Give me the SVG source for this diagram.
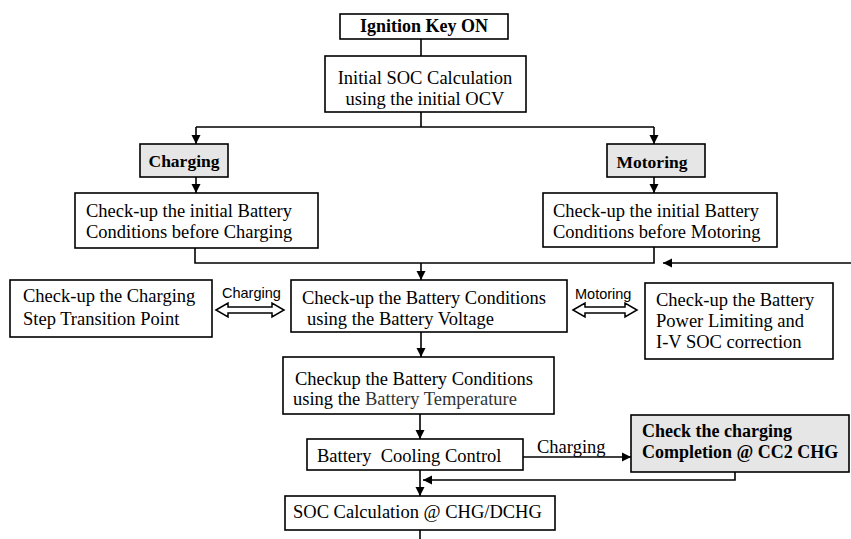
<svg xmlns="http://www.w3.org/2000/svg" width="851" height="539" viewBox="0 0 851 539">
<defs>
<marker id="ah" markerWidth="10" markerHeight="10" refX="9" refY="5" orient="auto" markerUnits="userSpaceOnUse">
<path d="M0,0.5 L9,5 L0,9.5 Z" fill="#000"/>
</marker>
<style>
.box{fill:#fff;stroke:#000;stroke-width:1.6}
.gbox{fill:#e6e6e6;stroke:#000;stroke-width:1.6}
.t{font-family:"Liberation Serif","Times New Roman",serif;font-size:18.5px;fill:#000}
.b{font-family:"Liberation Serif","Times New Roman",serif;font-size:18px;font-weight:bold;fill:#000}
.s{font-family:"Liberation Sans",Arial,sans-serif;font-size:14.5px;fill:#000}
.c{fill:none;stroke:#000;stroke-width:1.6}
.ca{fill:none;stroke:#000;stroke-width:1.6;marker-end:url(#ah)}
.dbl{fill:#fff;stroke:#000;stroke-width:1.5;stroke-linejoin:miter}
</style>
</defs>
<rect width="851" height="539" fill="#fff"/>

<g id="connectors">
<path class="c" d="M421,39 V56"/>
<path class="c" d="M421,112 V127 M196,127 H654"/>
<path class="ca" d="M196,127 V144"/>
<path class="ca" d="M654,127 V144"/>
<path class="ca" d="M196,177 V193"/>
<path class="ca" d="M654,177 V193"/>
<path class="c" d="M195,248 V263 H654 V247"/>
<path class="ca" d="M421,263 V280"/>
<path class="ca" d="M851,263 H663"/>
<path class="ca" d="M421,332 V357"/>
<path class="ca" d="M420,414 V439"/>
<path class="ca" d="M523,457 H631"/>
<path class="ca" d="M735,472 V480 H423"/>
<path class="ca" d="M420,470 V496"/>
<path class="c" d="M420,530 V539"/>
<path class="dbl" d="M216,310 L228,303 V307 H272 V303 L284,310 L272,317 V313 H228 V317 Z"/>
<path class="dbl" d="M573,310 L585,303 V307 H625 V303 L637,310 L625,317 V313 H585 V317 Z"/>
<text class="s" x="222" y="298">Charging</text>
<text class="s" x="575" y="299">Motoring</text>
<text class="t" x="537" y="453">Charging</text>
</g>

<g id="ignition">
<rect class="box" x="340" y="14" width="168" height="25"/>
<text class="b" x="424" y="32" text-anchor="middle">Ignition Key ON</text>
</g>
<g id="initial-soc">
<rect class="box" x="325" y="56" width="201" height="56"/>
<text class="t" x="425" y="84" text-anchor="middle">Initial SOC Calculation</text>
<text class="t" x="425" y="105" text-anchor="middle">using the initial OCV</text>
</g>
<g id="charging">
<rect class="gbox" x="140" y="144" width="88" height="33"/>
<text class="b" x="184" y="167" text-anchor="middle" style="font-size:17.5px">Charging</text>
</g>
<g id="motoring">
<rect class="gbox" x="607" y="144" width="98" height="33"/>
<text class="b" x="652" y="168" text-anchor="middle" style="font-size:17.5px">Motoring</text>
</g>
<g id="check-charging">
<rect class="box" x="75" y="193" width="243" height="55"/>
<text class="t" x="86" y="217">Check-up the initial Battery</text>
<text class="t" x="86" y="238">Conditions before Charging</text>
</g>
<g id="check-motoring">
<rect class="box" x="543" y="193" width="234" height="54"/>
<text class="t" x="553" y="217">Check-up the initial Battery</text>
<text class="t" x="553" y="238">Conditions before Motoring</text>
</g>
<g id="step-transition">
<rect class="box" x="10" y="280" width="202" height="57"/>
<text class="t" x="23" y="302">Check-up the Charging</text>
<text class="t" x="23" y="325">Step Transition Point</text>
</g>
<g id="voltage">
<rect class="box" x="291" y="280" width="276" height="52"/>
<text class="t" x="302" y="304">Check-up the Battery Conditions</text>
<text class="t" x="307" y="325">using the Battery Voltage</text>
</g>
<g id="power-limit">
<rect class="box" x="645" y="283" width="188" height="76"/>
<text class="t" x="656" y="306">Check-up the Battery</text>
<text class="t" x="656" y="327">Power Limiting and</text>
<text class="t" x="656" y="348">I-V SOC correction</text>
</g>
<g id="temperature">
<rect class="box" x="283" y="357" width="271" height="57"/>
<text class="t" x="295" y="385">Checkup the Battery Conditions</text>
<text class="t" x="293" y="405">using the <tspan fill="#333">Battery Temperature</tspan></text>
</g>
<g id="cooling">
<rect class="box" x="307" y="439" width="216" height="31"/>
<text class="t" x="317" y="462" xml:space="preserve">Battery  Cooling Control</text>
</g>
<g id="cc2">
<rect class="gbox" x="631" y="415" width="218" height="57"/>
<text class="b" x="642" y="437">Check the charging</text>
<text class="b" x="642" y="458">Completion @ CC2 CHG</text>
</g>
<g id="soc-calc">
<rect class="box" x="285" y="496" width="270" height="34"/>
<text class="t" x="293" y="518">SOC Calculation @ CHG/DCHG</text>
</g>
</svg>
